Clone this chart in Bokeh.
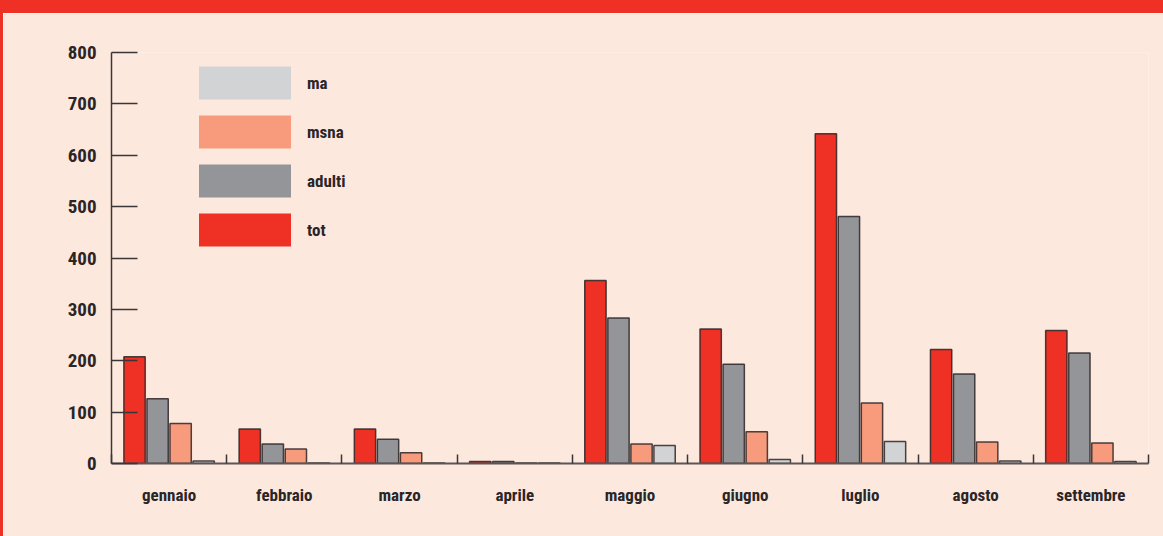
from bokeh.plotting import figure
from bokeh.models import FixedTicker, Legend, LegendItem, ColumnDataSource
from bokeh.embed import file_html
from bokeh.resources import INLINE

months = ["gennaio", "febbraio", "marzo", "aprile", "maggio", "giugno", "luglio", "agosto", "settembre"]
tot = [208, 67, 67, 4, 356, 262, 642, 222, 259]
adulti = [126, 38, 47, 4, 283, 193, 481, 174, 215]
msna = [78, 28, 21, 1, 38, 62, 118, 42, 40]
ma = [5, 1, 1, 1, 35, 8, 43, 5, 4]
series_names = ["tot", "adulti", "msna", "ma"]
series_values = [tot, adulti, msna, ma]
colors = ["#EE3124", "#939598", "#F79B7C", "#D1D3D4"]
y_ticks = [0, 100, 200, 300, 400, 500, 600, 700, 800]

FONT = "Roboto Condensed"
TXT = "#2a2526"
BG = "#FDE8DE"
RED = "#EE3124"

pos = list(range(1, len(months) + 1))
offsets = [-0.3, -0.1, 0.1, 0.3]

p = figure(width=1160, height=523, x_range=(0.5, len(months) + 0.5), y_range=(0, 800),
           output_backend="svg", toolbar_location=None,
           min_border_left=108, min_border_right=18, min_border_top=39, min_border_bottom=86)
p.styles = {"box-sizing": "content-box",
            "border-top": "13px solid " + RED, "border-left": "3px solid " + RED}
p.background_fill_color = BG
p.border_fill_color = BG
p.outline_line_color = None
p.grid.visible = False

for name, vals, col, off in zip(series_names, series_values, colors, offsets):
    src = ColumnDataSource(dict(x=[x + off for x in pos], top=vals))
    p.vbar(x="x", top="top", width=0.185, bottom=0, source=src,
           fill_color=col, line_color="#2b2526", line_width=1.5, line_alpha=0.85)

# legend (no outline on swatches)
nan = float("nan")
items = []
for name, col in zip(series_names, colors):
    r = p.vbar(x=[nan], top=[nan], width=0.1, fill_color=col, line_color=None)
    items.append(LegendItem(label=name, renderers=[r]))
items = items[::-1]
legend = Legend(items=items, location=(76, 213), orientation="vertical",
                glyph_width=115, glyph_height=41, spacing=8, label_standoff=5,
                padding=0, margin=0, border_line_color=None, background_fill_alpha=0,
                label_text_font=FONT, label_text_font_size="17px", label_text_color=TXT,
                label_text_font_style="bold")
p.add_layout(legend, "center")

# y axis
ya = p.yaxis[0]
ya.ticker = FixedTicker(ticks=y_ticks)
ya.major_tick_in = 26
ya.major_tick_out = 0
ya.minor_tick_in = 0
ya.minor_tick_out = 0
ya.major_label_standoff = 15
ya.axis_line_color = "#3a3536"
ya.axis_line_width = 1.5
ya.major_tick_line_color = "#3a3536"
ya.major_tick_line_width = 1.5
ya.major_label_text_font = FONT
ya.major_label_text_font_size = "19px"
ya.major_label_text_font_style = "bold"
ya.major_label_text_color = TXT

# x axis
xa = p.xaxis[0]
xa.ticker = FixedTicker(ticks=pos, minor_ticks=[x - 0.5 for x in pos] + [pos[-1] + 0.5])
xa.major_label_overrides = {x: m for x, m in zip(pos, months)}
xa.major_tick_in = 0
xa.major_tick_out = 0
xa.minor_tick_in = 9
xa.minor_tick_out = 0
xa.minor_tick_line_color = "#3a3536"
xa.minor_tick_line_width = 1.5
xa.axis_line_color = "#5a5556"
xa.axis_line_width = 2
xa.major_label_standoff = 21
xa.major_label_text_font = FONT
xa.major_label_text_font_size = "17px"
xa.major_label_text_font_style = "bold"
xa.major_label_text_color = TXT

open("out.html", "w").write(file_html(p, INLINE))
